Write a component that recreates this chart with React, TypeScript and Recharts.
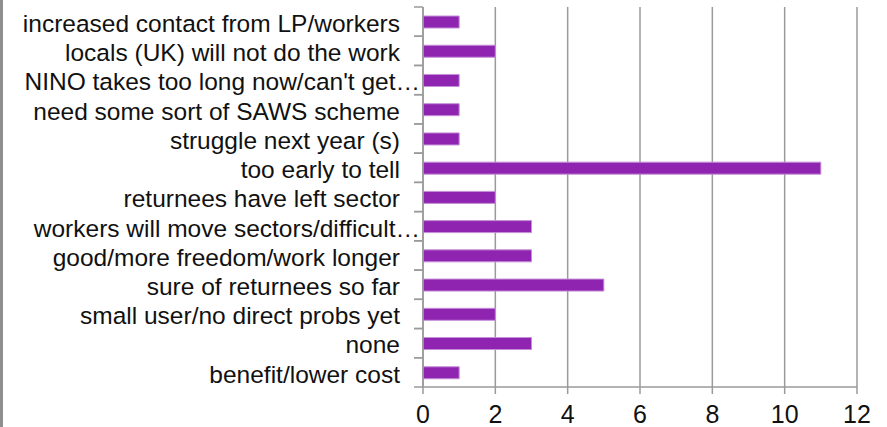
import React from "react"
import { BarChart, Bar, XAxis, YAxis, CartesianGrid } from "recharts"

const categories = [
  "increased contact from LP/workers",
  "locals (UK) will not do the work",
  "NINO takes too long now/can't get\u2026",
  "need some sort of SAWS scheme",
  "struggle next year (s)",
  "too early to tell",
  "returnees have left sector",
  "workers will move sectors/difficult\u2026",
  "good/more freedom/work longer",
  "sure of returnees so far",
  "small user/no direct probs yet",
  "none",
  "benefit/lower cost",
]
const counts = [1, 2, 1, 1, 1, 11, 2, 3, 3, 5, 2, 3, 1]
const xTicks = [0, 2, 4, 6, 8, 10, 12]

const data = categories.map((name, i) => ({ name, count: counts[i] }))

const W = 887
const H = 427
const TOP = 7
const BOTTOM_AXIS = 40
const AXIS = "#9a9a9a"
const FONT = "'Liberation Sans', Arial, sans-serif"

const band = (H - TOP - BOTTOM_AXIS) / categories.length

function CategoryTick(props: any) {
  const { x, y, payload } = props
  // cut-off labels run on past the usual gap, up to the axis
  const cut = String(payload.value).endsWith("\u2026")
  return (
    <g>
      <line x1={x - 9} x2={x} y1={y - band / 2} y2={y - band / 2} stroke={AXIS} strokeWidth={1.5} />
      <line x1={x - 9} x2={x} y1={y + band / 2} y2={y + band / 2} stroke={AXIS} strokeWidth={1.5} />
      <text
        x={cut ? x - 3 : x - 23}
        y={y}
        dy="0.42em"
        textAnchor="end"
        fill="#111"
        fontSize={24.5}
        fontFamily={FONT}
      >
        {payload.value}
      </text>
    </g>
  )
}

export default function App() {
  return (
    <div style={{ position: "absolute", left: 0, top: 0, width: W, height: H, background: "#fff" }}>
      <div style={{ position: "absolute", left: 0, top: 0, width: 3, height: H, background: "#8f8f8f" }} />
      <BarChart
        width={W}
        height={H}
        data={data}
        layout="vertical"
        margin={{ top: TOP, right: 30, left: 0, bottom: 0 }}
        barCategoryGap={0}
      >
        <CartesianGrid horizontal={false} stroke={AXIS} strokeWidth={1.5} />
        <XAxis
          type="number"
          domain={[0, 12]}
          ticks={xTicks}
          interval={0}
          height={BOTTOM_AXIS}
          tickSize={7}
          tickMargin={11}
          axisLine={{ stroke: AXIS, strokeWidth: 1.5 }}
          tickLine={{ stroke: AXIS, strokeWidth: 1.5 }}
          tick={{ fill: "#111", fontSize: 25, fontFamily: FONT }}
        />
        <YAxis
          type="category"
          dataKey="name"
          width={423}
          interval={0}
          tickSize={0}
          tickMargin={0}
          tickLine={false}
          axisLine={{ stroke: AXIS, strokeWidth: 1.5 }}
          tick={<CategoryTick />}
        />
        <Bar
          dataKey="count"
          fill="#8E24AF"
          stroke="#C58FD8"
          strokeWidth={1}
          barSize={12}
          isAnimationActive={false}
        />
      </BarChart>
    </div>
  )
}
